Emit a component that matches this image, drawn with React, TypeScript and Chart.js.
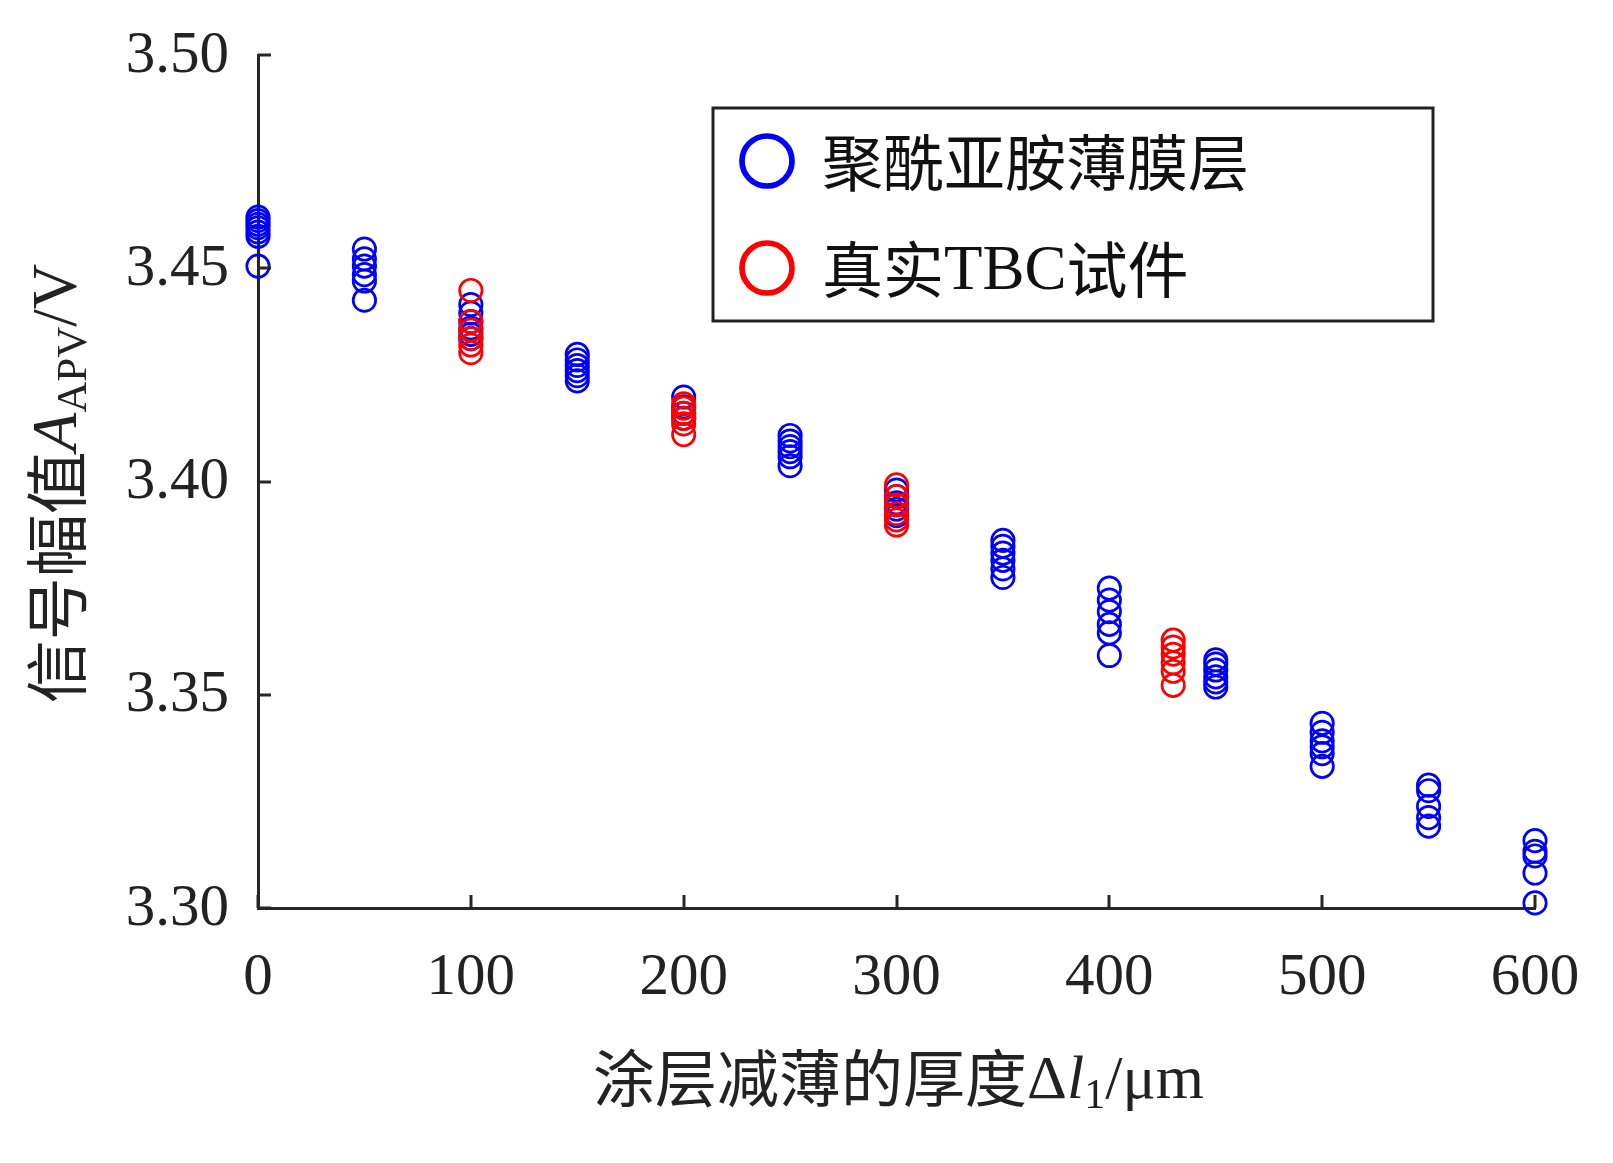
import React, { useEffect, useRef } from "react";
import { Chart, registerables } from "chart.js";

Chart.register(...registerables);

// ---- data ----
const xTickValues = [0, 100, 200, 300, 400, 500, 600];
const yTickValues = [3.3, 3.35, 3.4, 3.45, 3.5];

const polyimideThickness = [0, 50, 100, 150, 200, 250, 300, 350, 400, 450, 500, 550, 600];
const polyimideValues: number[][] = [
  [3.462, 3.4612, 3.4603, 3.4595, 3.4585, 3.4575, 3.4505],
  [3.4545, 3.4522, 3.4505, 3.4485, 3.447, 3.4425],
  [3.4415, 3.4395, 3.4375, 3.436, 3.4345, 3.4335],
  [3.4298, 3.4285, 3.4272, 3.426, 3.4248, 3.4236],
  [3.4198, 3.4175, 3.416, 3.4148],
  [3.4108, 3.4095, 3.4082, 3.407, 3.4058, 3.4037],
  [3.398, 3.3965, 3.395, 3.3935, 3.392],
  [3.3862, 3.3848, 3.3832, 3.3815, 3.3795, 3.3775],
  [3.375, 3.3722, 3.3695, 3.3665, 3.3645, 3.3592],
  [3.3582, 3.3572, 3.3558, 3.3542, 3.353, 3.3518],
  [3.3433, 3.3412, 3.3392, 3.3378, 3.3362, 3.3332],
  [3.3288, 3.3275, 3.3238, 3.3212, 3.3192],
  [3.3158, 3.3133, 3.3122, 3.3082, 3.3012],
];

const tbcThickness = [100, 200, 300, 430];
const tbcValues: number[][] = [
  [3.4448, 3.4375, 3.4355, 3.4335, 3.432, 3.4302],
  [3.4182, 3.4172, 3.416, 3.4148, 3.4135, 3.411],
  [3.3992, 3.3965, 3.3945, 3.3925, 3.391, 3.3898],
  [3.3628, 3.3612, 3.3595, 3.3575, 3.3555, 3.3522],
];

const legendLabels = ["聚酰亚胺薄膜层", "真实TBC试件"];
const seriesColors = ["#0000FF", "#FF0000"];

// ---- helpers ----
const SERIF = "'Liberation Serif', 'Times New Roman', serif";
const CJK = "'Noto Sans CJK SC', sans-serif";
const AXIS_COLOR = "#262626";

function toPoints(xs: number[], ys: number[][]) {
  const pts: { x: number; y: number }[] = [];
  xs.forEach((x, i) => ys[i].forEach((y) => pts.push({ x, y })));
  return pts;
}

type Run = { t: string; font: string; dy?: number };

function drawRuns(ctx: CanvasRenderingContext2D, runs: Run[], cx: number, baseline: number) {
  let total = 0;
  for (const r of runs) {
    ctx.font = r.font;
    total += ctx.measureText(r.t).width;
  }
  let x = cx - total / 2;
  ctx.textAlign = "left";
  ctx.textBaseline = "alphabetic";
  for (const r of runs) {
    ctx.font = r.font;
    ctx.fillText(r.t, x, baseline + (r.dy || 0));
    x += ctx.measureText(r.t).width;
  }
}

const decorPlugin = {
  id: "decor",
  afterDraw(chart: any) {
    const ctx: CanvasRenderingContext2D = chart.ctx;
    const xs = chart.scales.x;
    const ys = chart.scales.y;
    const area = chart.chartArea;
    ctx.save();

    // inward tick marks
    ctx.strokeStyle = AXIS_COLOR;
    ctx.lineWidth = 3;
    ctx.beginPath();
    for (const v of xTickValues) {
      const px = Math.round(xs.getPixelForValue(v));
      ctx.moveTo(px, area.bottom);
      ctx.lineTo(px, area.bottom - 13);
    }
    for (const v of yTickValues) {
      const py = Math.round(ys.getPixelForValue(v));
      ctx.moveTo(area.left, py);
      ctx.lineTo(area.left + 13, py);
    }
    ctx.stroke();

    // tick labels
    ctx.fillStyle = "#222";
    ctx.font = `59px ${SERIF}`;
    ctx.textAlign = "center";
    ctx.textBaseline = "middle";
    for (const v of xTickValues) {
      ctx.fillText(String(v), xs.getPixelForValue(v), area.bottom + 70);
    }
    ctx.textAlign = "right";
    for (const v of yTickValues) {
      ctx.fillText(v.toFixed(2), area.left - 29, ys.getPixelForValue(v) + 1);
    }

    // x axis title
    const cj = `62px ${CJK}`;
    const sr = `62px ${SERIF}`;
    const it = `italic 62px ${SERIF}`;
    const sub = `42px ${SERIF}`;
    drawRuns(
      ctx,
      [
        { t: "涂层减薄的厚度", font: cj, dy: 4 },
        { t: "Δ", font: sr },
        { t: "l", font: it },
        { t: "1", font: sub, dy: 10 },
        { t: "/μm", font: sr },
      ],
      (area.left + area.right) / 2 + 2,
      1098
    );

    // y axis title (rotated)
    const cjy = `63px ${CJK}`;
    const sry = `63px ${SERIF}`;
    const ity = `italic 63px ${SERIF}`;
    const suby = `43px ${SERIF}`;
    ctx.save();
    ctx.translate(76, (area.top + area.bottom) / 2 + 2);
    ctx.rotate(-Math.PI / 2);
    drawRuns(
      ctx,
      [
        { t: "信号幅值", font: cjy, dy: 4 },
        { t: "A", font: ity },
        { t: "APV", font: suby, dy: 10 },
        { t: "/V", font: sry },
      ],
      0,
      0
    );
    ctx.restore();

    // legend box
    const bx = 713, by = 108, bw = 720, bh = 213;
    ctx.fillStyle = "#ffffff";
    ctx.fillRect(bx, by, bw, bh);
    ctx.strokeStyle = "#222";
    ctx.lineWidth = 3;
    ctx.strokeRect(bx, by, bw, bh);
    const rowsY = [161, 268];
    legendLabels.forEach((label, i) => {
      ctx.beginPath();
      ctx.arc(767, rowsY[i], 25, 0, Math.PI * 2);
      ctx.strokeStyle = seriesColors[i];
      ctx.lineWidth = 5.7;
      ctx.stroke();
      ctx.fillStyle = "#111";
      ctx.textAlign = "left";
      ctx.textBaseline = "middle";
      const parts = label.match(/[A-Za-z]+|[^A-Za-z]+/g) || [label];
      let x = 822;
      for (const p of parts) {
        const latin = /^[A-Za-z]+$/.test(p);
        ctx.font = latin ? `63px ${SERIF}` : `61px ${CJK}`;
        ctx.fillText(p, x, rowsY[i] + (latin ? 4 : 2));
        x += ctx.measureText(p).width;
      }
    });

    ctx.restore();
  },
};

export default function App() {
  const ref = useRef<HTMLCanvasElement | null>(null);

  useEffect(() => {
    if (!ref.current) return;
    const chart = new Chart(ref.current, {
      type: "scatter",
      data: {
        datasets: [
          {
            label: legendLabels[0],
            data: toPoints(polyimideThickness, polyimideValues),
            pointStyle: "circle",
            pointRadius: 11.2,
            pointBorderWidth: 2.7,
            borderColor: seriesColors[0],
            backgroundColor: "rgba(0,0,0,0)",
            pointBackgroundColor: "rgba(0,0,0,0)",
            clip: false as any,
            order: 1,
          },
          {
            label: legendLabels[1],
            data: toPoints(tbcThickness, tbcValues),
            pointStyle: "circle",
            pointRadius: 11.2,
            pointBorderWidth: 2.7,
            borderColor: seriesColors[1],
            backgroundColor: "rgba(0,0,0,0)",
            pointBackgroundColor: "rgba(0,0,0,0)",
            clip: false as any,
            order: 0,
          },
        ],
      },
      options: {
        animation: false,
        responsive: false,
        devicePixelRatio: 1,
        layout: { padding: { top: 55, right: 78, left: 0, bottom: 0 } },
        plugins: {
          legend: { display: false },
          tooltip: { enabled: false },
        },
        scales: {
          x: {
            type: "linear",
            position: "bottom",
            min: 0,
            max: 600,
            ticks: { display: false, stepSize: 100 },
            grid: { display: false },
            border: { display: true, color: AXIS_COLOR, width: 3 },
            afterFit: (s: any) => {
              s.height = 255;
            },
          },
          y: {
            type: "linear",
            min: 3.3,
            max: 3.5,
            ticks: { display: false, stepSize: 0.05 },
            grid: { display: false },
            border: { display: true, color: AXIS_COLOR, width: 3 },
            afterFit: (s: any) => {
              s.width = 258;
            },
          },
        },
      },
      plugins: [decorPlugin],
    });
    return () => chart.destroy();
  }, []);

  return (
    <div style={{ position: "fixed", left: 0, top: 0, width: 1613, height: 1163, background: "#fff" }}>
      <canvas ref={ref} width={1613} height={1163} style={{ width: 1613, height: 1163, display: "block" }} />
    </div>
  );
}
